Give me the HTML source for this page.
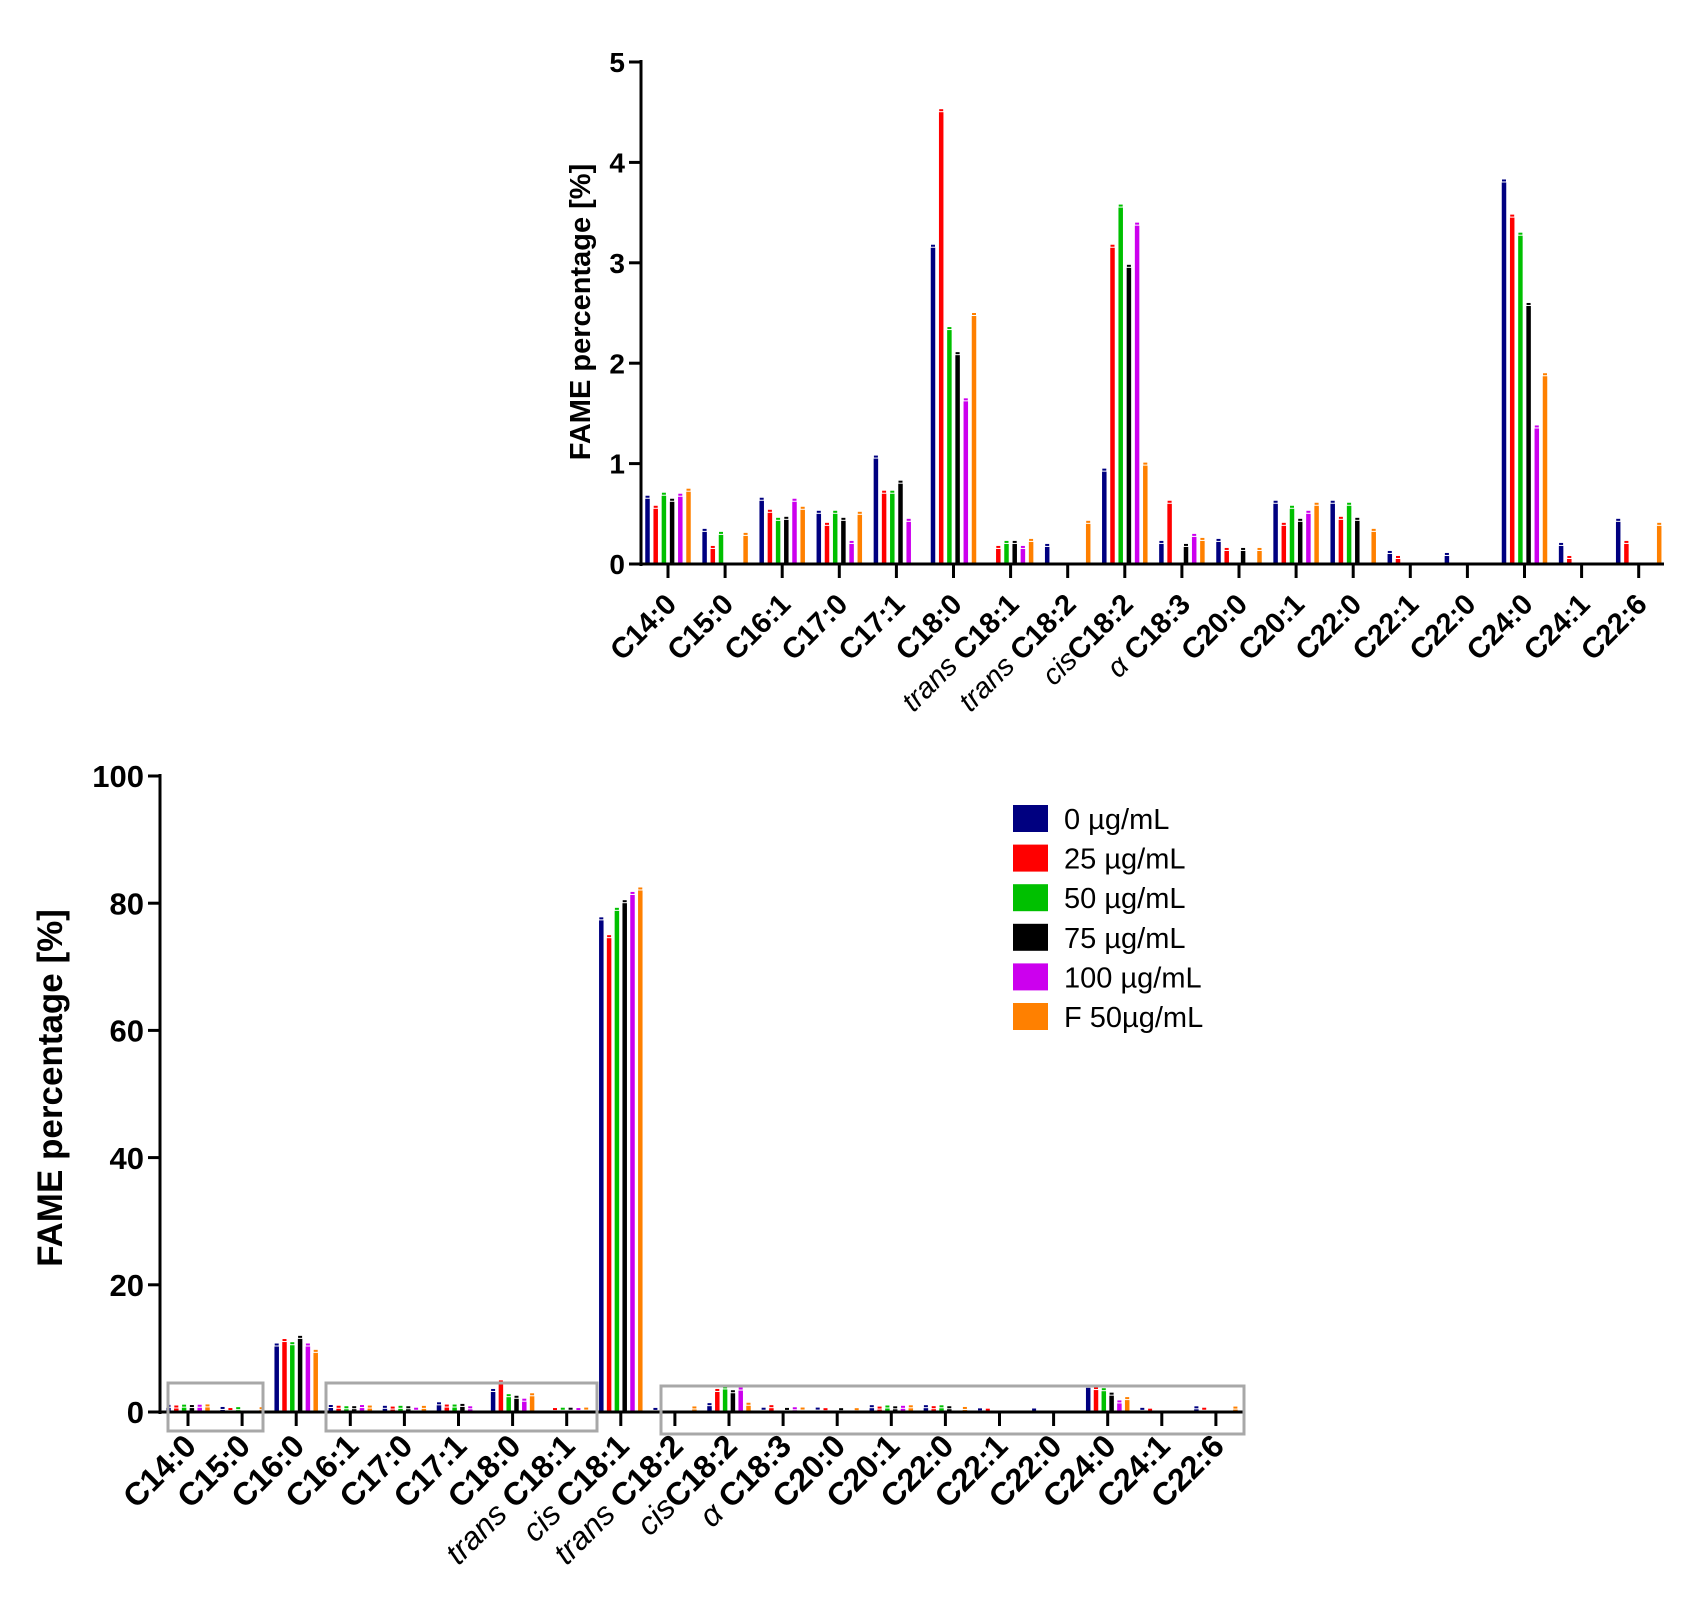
<!DOCTYPE html>
<html><head><meta charset="utf-8">
<style>
html,body{margin:0;padding:0;background:#fff;}
svg{display:block;font-family:"Liberation Sans",Arial,sans-serif;}
</style></head>
<body>
<svg id="fig" width="1690" height="1610" viewBox="0 0 1690 1610" xmlns="http://www.w3.org/2000/svg"></svg>
<script>
const seriesNames = ["0 \u00b5g/mL","25 \u00b5g/mL","50 \u00b5g/mL","75 \u00b5g/mL","100 \u00b5g/mL","F 50\u00b5g/mL"];
const seriesColors = ["#000080","#ff0000","#00c000","#000000","#cc00ee","#ff8000"];

const topCategories = [["","C14:0"],["","C15:0"],["","C16:1"],["","C17:0"],["","C17:1"],["","C18:0"],["trans ","C18:1"],["trans ","C18:2"],["cis","C18:2"],["\u03b1 ","C18:3"],["","C20:0"],["","C20:1"],["","C22:0"],["","C22:1"],["","C22:0"],["","C24:0"],["","C24:1"],["","C22:6"]];
const topS0 = [0.65,0.32,0.63,0.50,1.05,3.15,0.00,0.17,0.92,0.20,0.22,0.60,0.60,0.10,0.08,3.80,0.18,0.42];
const topS25 = [0.55,0.15,0.51,0.38,0.70,4.50,0.15,0,3.15,0.60,0.13,0.38,0.44,0.05,0,3.45,0.05,0.20];
const topS50 = [0.68,0.29,0.43,0.50,0.70,2.33,0.20,0,3.55,0,0,0.55,0.58,0,0,3.27,0,0];
const topS75 = [0.62,0,0.44,0.43,0.80,2.08,0.20,0,2.95,0.17,0.13,0.42,0.43,0,0,2.57,0,0];
const topS100 = [0.67,0,0.62,0.20,0.42,1.62,0.15,0,3.37,0.27,0,0.50,0,0,0,1.35,0,0];
const topSF = [0.72,0.28,0.54,0.49,0,2.47,0.22,0.40,0.98,0.23,0.13,0.58,0.32,0,0,1.87,0,0.38];
const topTicks = [0,1,2,3,4,5];

const botCategories = [["","C14:0"],["","C15:0"],["","C16:0"],["","C16:1"],["","C17:0"],["","C17:1"],["","C18:0"],["trans ","C18:1"],["cis ","C18:1"],["trans ","C18:2"],["cis","C18:2"],["\u03b1 ","C18:3"],["","C20:0"],["","C20:1"],["","C22:0"],["","C22:1"],["","C22:0"],["","C24:0"],["","C24:1"],["","C22:6"]];
const botS0 = [0.65,0.32,10.3,0.63,0.50,1.05,3.15,0,77.3,0.17,0.92,0.20,0.22,0.60,0.60,0.10,0.08,3.80,0.18,0.42];
const botS25 = [0.55,0.15,11.0,0.51,0.38,0.70,4.50,0.15,74.5,0,3.15,0.60,0.13,0.38,0.44,0.05,0,3.45,0.05,0.20];
const botS50 = [0.68,0.29,10.5,0.43,0.50,0.70,2.33,0.20,78.8,0,3.55,0,0,0.55,0.58,0,0,3.27,0,0];
const botS75 = [0.62,0,11.5,0.44,0.43,0.80,2.08,0.20,80.0,0,2.95,0.17,0.13,0.42,0.43,0,0,2.57,0,0];
const botS100 = [0.67,0,10.3,0.62,0.20,0.42,1.62,0.15,81.3,0,3.37,0.27,0,0.50,0,0,0,1.35,0,0];
const botSF = [0.72,0.28,9.3,0.54,0.49,0,2.47,0.22,82.0,0.40,0.98,0.23,0.13,0.58,0.32,0,0,1.87,0,0.38];
const botTicks = [0,20,40,60,80,100];

const NS="http://www.w3.org/2000/svg";
const svg=document.getElementById('fig');
function mk(tag,attrs,parent){const e=document.createElementNS(NS,tag);for(const k in attrs)e.setAttribute(k,attrs[k]);(parent||svg).appendChild(e);return e;}

function drawChart(cfg){
  const g=mk('g',{});
  
  
  const yScale=v=>cfg.y0-(v-cfg.ymin)/(cfg.ymax-cfg.ymin)*(cfg.y0-cfg.y1);
  const xCat=i=>cfg.firstTick+i*cfg.step;
  cfg.series.forEach((vals,s)=>{
    vals.forEach((v,i)=>{
      if(v<=0)return;
      const cx=xCat(i)+(s-2.5)*cfg.pitch;
      const y=yScale(v);
      const r=mk('rect',{x:cx-cfg.bw/2,y:y,width:cfg.bw,height:cfg.y0-y,fill:seriesColors[s]},g);
      
      
      mk('line',{x1:cx-2,x2:cx+2,y1:y-2,y2:y-2,stroke:seriesColors[s],'stroke-width':2},g);
    });
  });
  const ya=mk('line',{x1:cfg.x0,x2:cfg.x0,y1:cfg.y1-2,y2:cfg.y0+2,stroke:'#000','stroke-width':3},g);
  
  
  cfg.ticks.forEach(t=>{
    const y=yScale(t);
    mk('line',{x1:cfg.x0-12,x2:cfg.x0,y1:y,y2:y,stroke:'#000','stroke-width':3},g);
    const tx=mk('text',{x:cfg.x0-16,y:y+cfg.tickFont*0.36,'text-anchor':'end','font-size':cfg.tickFont,'font-weight':'bold'},g);
    tx.textContent=t;
    
    
  });
  const xa=mk('line',{x1:cfg.x0,x2:cfg.xEnd,y1:cfg.y0,y2:cfg.y0,stroke:'#000','stroke-width':3},g);
  
  
  cfg.cats.forEach((c,i)=>{
    const x=xCat(i);
    mk('line',{x1:x,x2:x,y1:cfg.y0,y2:cfg.y0+14,stroke:'#000','stroke-width':3},g);
    const t=mk('text',{'text-anchor':'end','font-size':cfg.labFont,transform:`translate(${x+10},${cfg.y0+cfg.labDy}) rotate(-45)`},g);
    
    
    if(c[0]){const a=mk('tspan',{'font-style':'italic'},t);a.textContent=c[0];}
    const b=mk('tspan',{'font-weight':'bold'},t);b.textContent=c[1];
  });
  const yt=mk('text',{'text-anchor':'middle','font-size':cfg.titleFont,'font-weight':'bold',transform:`translate(${cfg.titleX},${cfg.titleY}) rotate(-90)`},g);
  yt.textContent='FAME percentage [%]';
  
  
  return g;
}

drawChart({name:'top-chart',x0:641,xEnd:1664,y0:564,y1:62,ymin:0,ymax:5,firstTick:668,step:57.1,pitch:8.2,bw:4.5,labDy:42,
  series:[topS0,topS25,topS50,topS75,topS100,topSF],cats:topCategories,ticks:topTicks,tickFont:28,labFont:29,titleFont:29,titleX:590,titleY:312});
drawChart({name:'bottom-chart',x0:160,xEnd:1244,y0:1412,y1:776,ymin:0,ymax:100,firstTick:188,step:54.1,pitch:7.8,bw:4.5,labDy:36,
  series:[botS0,botS25,botS50,botS75,botS100,botSF],cats:botCategories,ticks:botTicks,tickFont:31,labFont:32,titleFont:35,titleX:62,titleY:1088});

[[168,1383,95,48],[326,1383,271,48],[661,1386,583,48]].forEach((b,i)=>{
  const r=mk('rect',{x:b[0],y:b[1],width:b[2],height:b[3],fill:'none',stroke:'#a8a8a8','stroke-width':3});
  
  
});

const lg=mk('g',{});


seriesNames.forEach((n,i)=>{
  const y=818+i*39.6;
  const r=mk('rect',{x:1013,y:y-13,width:35,height:27,fill:seriesColors[i]},lg);
  
  
  const t=mk('text',{x:1064,y:y+11,'font-size':29},lg);
  t.textContent=n;
  
  
});
</script>
</body></html>
